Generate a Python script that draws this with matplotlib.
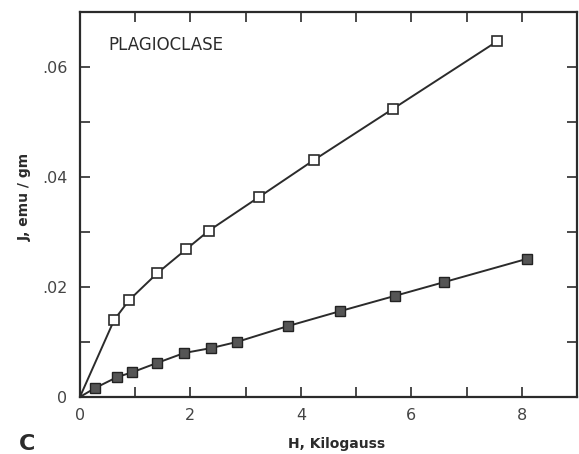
import matplotlib.pyplot as plt
from matplotlib.ticker import MultipleLocator

# open squares (upper curve)
h_open = [0.0, 0.62, 0.89, 1.40, 1.93, 2.33, 3.25, 4.24, 5.67, 7.56]
j_open = [0.0, 0.0140, 0.0176, 0.0225, 0.0269, 0.0302, 0.0364, 0.0431, 0.0524, 0.0647]

# filled squares (lower curve)
h_fill = [0.0, 0.27, 0.67, 0.95, 1.40, 1.89, 2.38, 2.84, 3.77, 4.71, 5.71, 6.60, 8.09]
j_fill = [0.0, 0.0016, 0.0036, 0.0045, 0.0062, 0.0080, 0.0089, 0.0100, 0.0129, 0.0156, 0.0184, 0.0209, 0.0251]

x_ticks = [0, 2, 4, 6, 8]
y_ticks = [0, 0.02, 0.04, 0.06]
y_ticklabels = ["0", ".02", ".04", ".06"]

ink = "#2b2b2b"
label_gray = "#444444"

fig = plt.figure(figsize=(5.79, 4.54), dpi=100)
ax = fig.add_axes([0.138, 0.1256, 0.8585, 0.848])

ax.plot(h_open, j_open, color=ink, lw=1.4, zorder=2)
ax.plot(h_open[1:], j_open[1:], ls="none", marker="s", ms=6.5, mfc="white",
        mec=ink, mew=1.2, zorder=3)
ax.plot(h_fill, j_fill, color=ink, lw=1.4, zorder=2)
ax.plot(h_fill[1:], j_fill[1:], ls="none", marker="s", ms=6.5, mfc="#555555",
        mec="#222222", mew=1.0, zorder=3)

ax.set_xlim(0, 9)
ax.set_ylim(0, 0.07)
ax.set_xticks(x_ticks)
ax.set_yticks(y_ticks)
ax.set_yticklabels(y_ticklabels)
ax.xaxis.set_minor_locator(MultipleLocator(1))
ax.yaxis.set_minor_locator(MultipleLocator(0.01))
ax.tick_params(which="both", direction="in", top=True, right=True,
               length=7, width=1.2, color=ink)
ax.tick_params(axis="x", which="major", pad=8, labelsize=11.5, labelcolor=label_gray)
ax.tick_params(axis="y", which="major", pad=9, labelsize=11.5, labelcolor=label_gray)
for s in ax.spines.values():
    s.set_linewidth(1.6)
    s.set_color(ink)

ax.text(0.51, 0.0640, "PLAGIOCLASE", fontsize=12, color=ink, va="center")

fig.text(0.582, 0.022, "H, Kilogauss", fontsize=10, weight="semibold", color=ink,
         ha="center", va="center")
fig.text(0.043, 0.566, "J, emu / gm", fontsize=10, weight="semibold", color=ink,
         rotation=90, ha="center", va="center")
fig.text(0.047, 0.022, "C", fontsize=16, weight="bold", color=ink,
         ha="center", va="center")

fig.savefig("out.png", dpi=100)
